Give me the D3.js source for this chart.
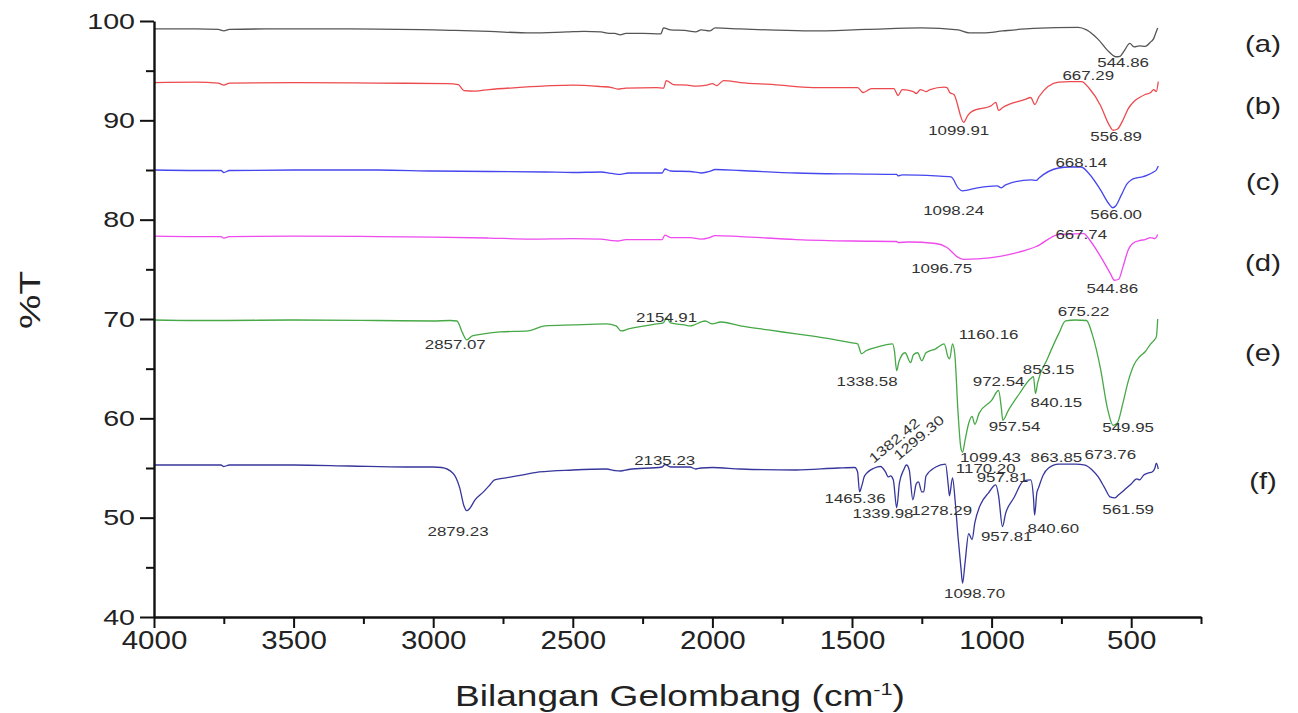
<!DOCTYPE html>
<html>
<head>
<meta charset="utf-8">
<script src="https://cdn.jsdelivr.net/npm/d3@7"></script>
<style>
  body { margin: 0; background: #fff; }
  text { font-family: "Liberation Sans", Arial, sans-serif; }
</style>
</head>
<body>
<div id="chart"></div>
<script>
// spectra, [wavenumber, %T]
var specA = [[4000,99.2],[3850,99.2],[3770,99.15],[3750,99.0],[3730,99.15],[3600,99.2],[3300,99.2],[3000,99.1],[2920,99.05],[2800,98.95],[2650,98.8],[2520,98.9],[2460,98.95],[2400,98.9],[2370,98.75],[2350,98.75],[2330,98.6],[2310,98.75],[2250,98.75],[2185,98.7],[2175,99.3],[2150,99.1],[2100,99.05],[2060,98.9],[2040,99.1],[2010,99.0],[1990,99.3],[1900,99.2],[1800,99.1],[1650,99.0],[1450,99.15],[1250,99.3],[1120,99.1],[1080,98.8],[1030,98.8],[960,99.0],[850,99.25],[690,99.35],[660,99.1],[620,98.2],[580,96.9],[555,96.4],[540,96.45],[525,97.0],[505,97.75],[490,97.4],[470,97.5],[450,97.45],[430,97.9],[420,98.2],[412,98.8],[405,99.3]];

var specB = [[4000,93.8],[3850,93.85],[3770,93.75],[3750,93.55],[3730,93.75],[3500,93.8],[3200,93.75],[2950,93.7],[2910,93.6],[2890,93.0],[2850,92.95],[2800,93.1],[2700,93.3],[2500,93.55],[2400,93.4],[2360,93.3],[2340,93.15],[2310,93.25],[2200,93.3],[2175,93.25],[2165,94.0],[2140,93.6],[2090,93.55],[2060,93.45],[2020,93.55],[2000,93.7],[1985,93.5],[1960,94.0],[1900,93.8],[1780,93.6],[1640,93.3],[1480,93.3],[1460,92.8],[1430,93.2],[1350,93.2],[1335,92.5],[1320,93.1],[1280,92.9],[1270,92.7],[1255,93.1],[1235,92.9],[1220,93.1],[1170,93.35],[1160,93.3],[1150,92.8],[1135,92.6],[1100,89.8],[1085,90.5],[1070,90.9],[1000,91.5],[985,91.8],[975,91.0],[960,91.3],[880,92.1],[860,92.3],[845,91.6],[830,92.4],[760,93.85],[720,93.9],[678,93.9],[650,93.2],[610,91.5],[580,89.6],[565,89.0],[550,89.1],[530,90.0],[510,91.2],[490,91.9],[470,92.3],[450,92.6],[430,92.8],[420,93.1],[410,92.9],[403,93.9]];

var specC = [[4000,85.0],[3850,84.95],[3760,84.95],[3750,84.75],[3730,84.95],[3500,85.0],[3200,85.0],[3000,84.9],[2800,84.85],[2600,84.8],[2500,84.75],[2400,84.8],[2360,84.65],[2330,84.55],[2300,84.7],[2180,84.7],[2170,85.1],[2150,84.9],[2080,84.85],[2040,84.7],[2010,84.85],[1990,85.05],[1900,84.95],[1700,84.7],[1500,84.6],[1340,84.55],[1335,84.4],[1320,84.5],[1200,84.4],[1145,84.3],[1120,83.2],[1105,82.9],[1050,83.2],[980,83.4],[965,83.2],[950,83.5],[860,84.0],[840,83.95],[830,84.2],[760,85.2],[720,85.3],[680,85.3],[650,84.6],[610,83.0],[580,81.6],[566,81.2],[555,81.4],[535,82.5],[515,83.6],[500,84.0],[480,84.2],[460,84.3],[440,84.5],[420,84.8],[410,85.0],[403,85.4]];

var specD = [[4000,78.35],[3850,78.3],[3760,78.3],[3750,78.15],[3730,78.3],[3500,78.35],[3200,78.3],[3000,78.25],[2800,78.15],[2650,78.05],[2500,78.1],[2400,78.05],[2360,77.9],[2340,77.85],[2310,78.0],[2180,78.0],[2170,78.45],[2150,78.2],[2080,78.2],[2040,78.05],[2010,78.2],[1990,78.4],[1900,78.3],[1700,78.0],[1500,77.85],[1340,77.8],[1335,77.7],[1300,77.75],[1200,77.6],[1160,77.2],[1120,76.2],[1100,76.0],[1050,76.05],[970,76.3],[920,76.6],[880,76.9],[840,77.3],[760,78.5],[720,78.55],[670,78.6],[650,78.0],[610,76.3],[575,74.6],[560,73.9],[545,74.0],[530,75.2],[510,77.0],[495,77.6],[470,77.9],[450,78.0],[430,78.2],[415,78.1],[405,78.5]];

var specE = [[4000,69.9],[3850,69.85],[3750,69.85],[3500,69.9],[3200,69.85],[3000,69.8],[2940,69.85],[2915,69.8],[2895,68.6],[2880,67.9],[2860,68.3],[2820,68.5],[2760,68.7],[2660,68.8],[2600,69.3],[2500,69.4],[2380,69.5],[2345,69.3],[2327,68.8],[2300,69.0],[2200,69.5],[2176,69.6],[2164,70.1],[2150,69.6],[2100,69.4],[2080,69.3],[2026,69.8],[2000,69.5],[1970,69.7],[1900,69.3],[1800,68.9],[1700,68.5],[1600,68.1],[1500,67.6],[1480,67.5],[1466,66.5],[1450,66.8],[1420,67.1],[1380,67.4],[1355,67.5],[1348,66.8],[1340,64.8],[1332,65.7],[1310,66.6],[1290,65.6],[1280,66.4],[1265,66.6],[1250,65.8],[1235,66.6],[1200,67.0],[1170,67.5],[1155,66.1],[1150,66.0],[1140,67.5],[1132,66.5],[1120,60.5],[1110,57.0],[1104,56.6],[1095,57.8],[1082,59.5],[1070,60.2],[1060,59.4],[1045,60.5],[1000,61.8],[975,62.8],[965,61.0],[960,59.8],[940,60.8],[900,62.5],[860,64.0],[850,64.2],[843,62.5],[835,63.6],[800,66.0],[760,68.5],[735,69.8],[700,69.9],[660,69.85],[640,68.5],[610,65.0],[585,61.0],[565,59.3],[550,59.5],[530,61.5],[510,63.8],[490,65.4],[470,66.2],[450,66.7],[430,67.5],[420,67.8],[410,68.2],[405,70.0]];

var specF = [[4000,55.3],[3850,55.3],[3760,55.3],[3750,55.15],[3730,55.3],[3500,55.3],[3300,55.2],[3100,55.1],[3000,55.1],[2970,55.05],[2930,54.5],[2905,53.0],[2890,51.2],[2880,50.7],[2870,50.9],[2850,51.8],[2820,52.6],[2800,53.2],[2780,53.8],[2740,54.0],[2700,54.2],[2620,54.6],[2500,54.8],[2380,54.9],[2350,54.75],[2330,54.7],[2300,54.85],[2180,55.1],[2170,55.35],[2150,55.1],[2080,55.1],[2060,54.9],[2040,55.0],[2000,55.05],[1900,54.9],[1700,54.8],[1550,55.0],[1490,55.05],[1480,54.6],[1473,52.6],[1465,53.2],[1455,54.2],[1420,55.0],[1398,55.15],[1380,54.6],[1370,54.1],[1362,54.2],[1352,53.8],[1340,51.0],[1330,53.5],[1315,54.8],[1305,55.3],[1295,54.8],[1282,51.8],[1270,53.4],[1262,53.6],[1250,52.6],[1243,52.6],[1235,54.2],[1200,55.1],[1165,55.4],[1155,53.2],[1151,52.2],[1140,54.0],[1130,51.5],[1120,48.0],[1110,45.0],[1104,43.4],[1095,45.5],[1082,48.4],[1070,47.8],[1060,49.5],[1040,51.3],[1011,52.5],[985,53.3],[975,52.2],[961,49.1],[950,50.4],[920,52.0],[885,53.7],[860,53.8],[850,52.0],[846,50.25],[838,52.5],[832,53.0],[815,54.3],[796,55.0],[760,55.4],[700,55.4],[665,55.3],[640,54.8],[618,54.1],[595,53.0],[576,52.1],[558,52.0],[545,52.3],[536,52.5],[520,52.9],[500,53.4],[480,53.9],[470,53.8],[455,54.3],[439,54.5],[425,54.6],[415,55.0],[410,55.5],[403,54.9]];

var seriesNames = ["(a)", "(b)", "(c)", "(d)", "(e)", "(f)"];
var seriesLabelT = [97.75, 91.5, 83.8, 75.7, 66.6, 53.7];
var seriesColors = ["#555555", "#ec4a4e", "#4646ee", "#ee4aee", "#46a846", "#36369c"];

var xMajor = [4000, 3500, 3000, 2500, 2000, 1500, 1000, 500];
var xMinor = [3750, 3250, 2750, 2250, 1750, 1250, 750, 250];
var yMajor = [40, 50, 60, 70, 80, 90, 100];
var yMinor = [45, 55, 65, 75, 85, 95];

// peak labels: text, wavenumber, %T (baseline), rotation
var peakLabels = [
  ["544.86", 529, 95.37, 0], ["667.29", 654, 94.06, 0],
  ["1099.91", 1118, 88.5, 0], ["556.89", 554, 87.9, 0],
  ["668.14", 679, 85.3, 0], ["1098.24", 1136, 80.5, 0], ["566.00", 554, 80.06, 0],
  ["667.74", 679, 78.1, 0], ["1096.75", 1179, 74.6, 0], ["544.86", 568, 72.6, 0],
  ["2857.07", 2921, 67.0, 0], ["2154.91", 2164, 69.7, 0], ["1160.16", 1011, 68.0, 0],
  ["675.22", 671, 70.3, 0], ["1338.58", 1446, 63.3, 0], ["853.15", 796, 64.45, 0],
  ["972.54", 975, 63.3, 0], ["840.15", 768, 61.1, 0], ["957.54", 918, 58.7, 0],
  ["549.95", 511, 58.6, 0],
  ["2135.23", 2171, 55.3, 0], ["1382.42", 1338, 57.4, -40], ["1299.30", 1250, 57.7, -40],
  ["1099.43", 1004, 55.6, 0], ["1170.20", 1021, 54.5, 0], ["957.81", 961, 53.6, 0],
  ["863.85", 768, 55.6, 0], ["673.76", 575, 55.9, 0], ["1465.36", 1489, 51.5, 0],
  ["1339.98", 1389, 49.95, 0], ["1278.29", 1179, 50.25, 0], ["957.81", 946, 47.7, 0],
  ["840.60", 779, 48.5, 0], ["561.59", 511, 50.35, 0], ["1098.70", 1061, 41.9, 0],
  ["2879.23", 2911, 48.2, 0]
];

var spectra = [specA, specB, specC, specD, specE, specF];

var W = 1298, H = 713;
var svg = d3.select("#chart").append("svg")
    .attr("width", W)
    .attr("height", H);

var x = d3.scaleLinear().domain([4000, 250]).range([154, 1201]);
var y = d3.scaleLinear().domain([40, 100]).range([617, 21]);

// widen text a bit, the source picture is stretched sideways
function stretch(sel, k) {
  sel.each(function() {
    var w = this.getComputedTextLength();
    d3.select(this).attr("textLength", w * k).attr("lengthAdjust", "spacingAndGlyphs");
  });
}

var line = d3.line()
    .x(function(d) { return x(d[0]); })
    .y(function(d) { return y(d[1]); })
    .curve(d3.curveMonotoneX);

svg.selectAll(".spec")
    .data(spectra)
    .enter().append("path")
    .attr("class", "spec")
    .attr("d", line)
    .attr("fill", "none")
    .attr("stroke", function(d, i) { return seriesColors[i]; })
    .attr("stroke-width", 1.3);

// axes
var gx = svg.append("g").attr("transform", "translate(0," + y(40) + ")")
    .call(d3.axisBottom(x).tickValues(xMajor).tickSize(11).tickSizeOuter(0).tickPadding(3).tickFormat(d3.format("d")));
var gxm = svg.append("g").attr("transform", "translate(0," + y(40) + ")")
    .call(d3.axisBottom(x).tickValues(xMinor).tickSize(7).tickFormat(""));
gxm.select(".domain").remove();

var gy = svg.append("g").attr("transform", "translate(" + x(4000) + ",0)")
    .call(d3.axisLeft(y).tickValues(yMajor).tickSize(14).tickSizeOuter(0).tickPadding(5));
var gym = svg.append("g").attr("transform", "translate(" + x(4000) + ",0)")
    .call(d3.axisLeft(y).tickValues(yMinor).tickSize(8).tickFormat(""));
gym.select(".domain").remove();

[gx, gxm, gy, gym].forEach(function(g) {
  g.select(".domain").attr("stroke", "#111").attr("stroke-width", 2.4);
  g.selectAll(".tick line").attr("stroke", "#111").attr("stroke-width", 2);
});
gx.selectAll(".tick text").attr("font-size", 25).attr("fill", "#222")
    .style("font-family", "'Liberation Sans', Arial, sans-serif");
gy.selectAll(".tick text").attr("font-size", 22).attr("fill", "#222")
    .style("font-family", "'Liberation Sans', Arial, sans-serif");
stretch(gx.selectAll(".tick text"), 1.18);
stretch(gy.selectAll(".tick text"), 1.3);

// peak labels
var pl = svg.selectAll(".peak")
    .data(peakLabels)
    .enter().append("text")
    .attr("class", "peak")
    .attr("text-anchor", "middle")
    .attr("font-size", 13.5)
    .attr("fill", "#333")
    .attr("transform", function(d) {
      return "translate(" + x(d[1]) + "," + y(d[2]) + ") rotate(" + d[3] + ")";
    })
    .text(function(d) { return d[0]; });
stretch(pl, 1.25);

// series names on the right
var sl = svg.selectAll(".sname")
    .data(seriesNames)
    .enter().append("text")
    .attr("class", "sname")
    .attr("x", 1263)
    .attr("y", function(d, i) { return y(seriesLabelT[i]); })
    .attr("dy", "0.35em")
    .attr("text-anchor", "middle")
    .attr("font-size", 24)
    .attr("fill", "#222")
    .text(function(d) { return d; });
stretch(sl, 1.22);

// axis titles
var xt = svg.append("text")
    .attr("x", 680)
    .attr("y", 706)
    .attr("text-anchor", "middle")
    .attr("font-size", 29)
    .attr("fill", "#222");
xt.append("tspan").text("Bilangan Gelombang (cm");
xt.append("tspan").attr("dy", -11).attr("font-size", 17).text("-1");
xt.append("tspan").attr("dy", 11).text(")");
xt.attr("textLength", 450).attr("lengthAdjust", "spacingAndGlyphs");

svg.append("text")
    .attr("transform", "translate(40,300) rotate(-90)")
    .attr("text-anchor", "middle")
    .attr("font-size", 30)
    .attr("fill", "#222")
    .attr("textLength", 58)
    .attr("lengthAdjust", "spacingAndGlyphs")
    .text("%T");
</script>
</body>
</html>
